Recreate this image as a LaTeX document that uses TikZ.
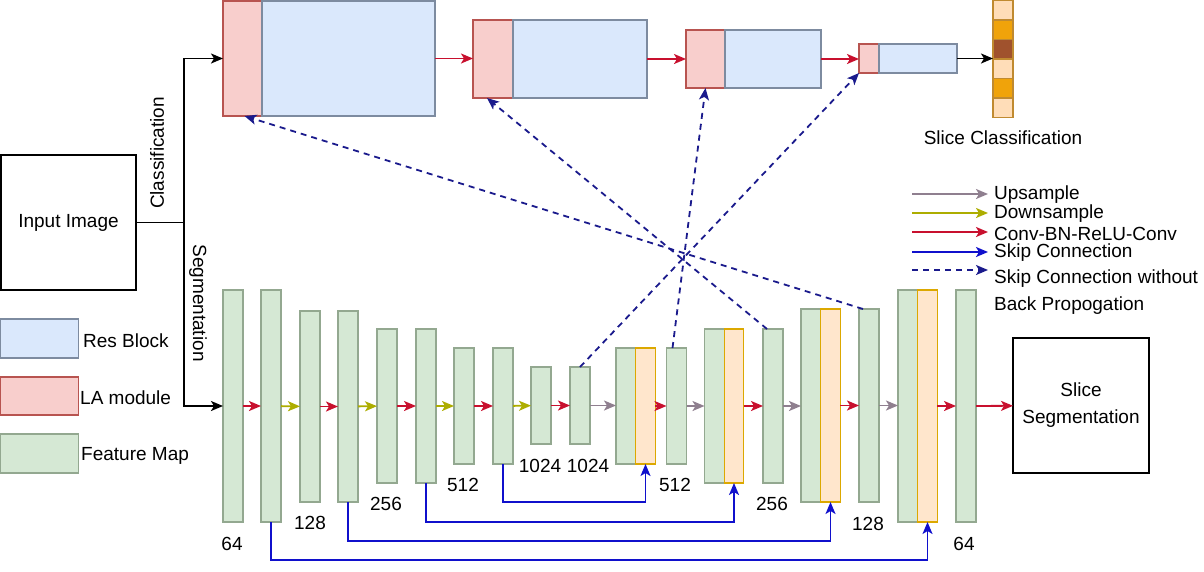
\documentclass[tikz,border=0pt]{standalone}
\usepackage{fontspec}
\setmainfont{Liberation Sans}
\usetikzlibrary{arrows.meta,calc}
\definecolor{lapink}{HTML}{F8CECC}
\definecolor{laborder}{HTML}{B85450}
\definecolor{resblue}{HTML}{DAE8FC}
\definecolor{resborder}{HTML}{7D8BA0}
\definecolor{fmgreen}{HTML}{D5E8D4}
\definecolor{fmborder}{HTML}{93A890}
\definecolor{catfill}{HTML}{FFE6CC}
\definecolor{catborder}{HTML}{DCA800}
\definecolor{convred}{HTML}{C8102E}
\definecolor{downolive}{HTML}{ADAD00}
\definecolor{upgray}{HTML}{8F7F8F}
\definecolor{skipblue}{HTML}{1010CC}
\definecolor{dashnavy}{HTML}{1A1A8C}
\definecolor{clight}{HTML}{FFDDB8}
\definecolor{corange}{HTML}{F0A30A}
\definecolor{cbrown}{HTML}{A0522D}
\definecolor{cborder}{HTML}{C08A30}
\begin{document}
\begin{tikzpicture}[x=1pt,y=-1pt,
  font=\fontsize{19}{22}\selectfont,
  blk/.style={inner sep=0pt, outer sep=0pt, line width=1.4pt},
  la/.style={blk, draw=laborder, fill=lapink},
  res/.style={blk, draw=resborder, fill=resblue},
  fm/.style={blk, draw=fmborder, fill=fmgreen, minimum width=20pt},
  cat/.style={blk, draw=catborder, fill=catfill, minimum width=19.5pt},
  outbox/.style={blk, draw=black, line width=1.5pt, align=center},
  cell/.style={blk, draw=cborder, line width=1.2pt, minimum width=20pt, minimum height=19.5pt},
  tip/.style={-{Stealth[length=12pt,width=10pt,inset=3pt]}},
  arr/.style={tip, line width=1.8pt},
  conv/.style={arr, draw=convred},
  down/.style={arr, draw=downolive},
  up/.style={arr, draw=upgray},
  plain/.style={arr, draw=black},
  skip/.style={arr, draw=skipblue},
  dskip/.style={arr, draw=dashnavy, dash pattern=on 6pt off 5pt},
  lbl/.style={inner sep=0pt}
]
\useasboundingbox (0,0) rectangle (1204,571);

% ---------- Input ----------
\node[outbox, minimum width=135pt, minimum height=135pt] (in) at (68.5,222.5) {Input Image};
\coordinate (j) at (184,222.5);
\node[lbl, rotate=90] (tcls) at (157,153) {Classification};
\node[lbl, rotate=-90] (tseg) at (198,303) {Segmentation};

% ---------- Classification branch ----------
\node[la, minimum width=39pt, minimum height=115pt] (b1l) at (242.5,58.5) {};
\node[res, minimum width=173pt, minimum height=115pt] (b1r) at (348.5,58.5) {};
\node[la, minimum width=40pt, minimum height=78pt] (b2l) at (493,59) {};
\node[res, minimum width=134pt, minimum height=78pt] (b2r) at (580,59) {};
\node[la, minimum width=39pt, minimum height=58pt] (b3l) at (705.5,59) {};
\node[res, minimum width=96pt, minimum height=58pt] (b3r) at (773,59) {};
\node[la, minimum width=20pt, minimum height=29pt] (b4l) at (869,58.5) {};
\node[res, minimum width=78pt, minimum height=29pt] (b4r) at (918,58.5) {};

\node[cell, fill=clight] (c1) at (1003,10.25) {};
\node[cell, fill=corange] (c2) at (1003,29.75) {};
\node[cell, fill=cbrown] (c3) at (1003,49.25) {};
\node[cell, fill=clight] (c4) at (1003,68.75) {};
\node[cell, fill=corange] (c5) at (1003,88.25) {};
\node[cell, fill=clight] (c6) at (1003,107.75) {};
\node[lbl] (tcl) at (1003,138) {Slice Classification};

\draw[plain] (in.east) -- (j) |- (b1l.west);
\draw[conv] (b1r.east) -- (b1r.east -| b2l.west);
\draw[conv] (b2r.east) -- (b2r.east -| b3l.west);
\draw[conv] (b3r.east) -- (b3r.east -| b4l.west);
\draw[plain] (b4r.east) -- (b4r.east -| c3.west);

% ---------- Segmentation branch ----------
\node[fm, minimum height=232pt] (f1) at (233,406) {};
\node[fm, minimum height=232pt] (f2) at (271,406) {};
\node[fm, minimum height=191pt] (f3) at (310,406.5) {};
\node[fm, minimum height=191pt] (f4) at (348,406.5) {};
\node[fm, minimum height=154pt] (f5) at (387,406) {};
\node[fm, minimum height=154pt] (f6) at (426,406) {};
\node[fm, minimum height=116pt] (f7) at (464,406) {};
\node[fm, minimum height=116pt] (f8) at (503,406) {};
\node[fm, minimum height=77pt] (f9) at (541,405.5) {};
\node[fm, minimum height=77pt] (f10) at (580,405.5) {};
\node[fm, minimum height=116pt] (d1g) at (626,406) {};
\node[cat, minimum height=116pt] (d1o) at (645.5,406) {};
\node[fm, minimum height=116pt] (f11) at (676.5,406) {};
\node[fm, minimum height=154pt] (d2g) at (714.5,406) {};
\node[cat, minimum height=154pt] (d2o) at (734,406) {};
\node[fm, minimum height=154pt] (f12) at (773,406) {};
\node[fm, minimum height=193pt] (d3g) at (811,405.5) {};
\node[cat, minimum height=193pt] (d3o) at (830.5,405.5) {};
\node[fm, minimum height=193pt] (f13) at (869,405.5) {};
\node[fm, minimum height=232pt] (d4g) at (908,406) {};
\node[cat, minimum height=232pt] (d4o) at (927.5,406) {};
\node[fm, minimum height=232pt] (f14) at (966,406) {};
\node[outbox, minimum width=136pt, minimum height=135pt, font=\fontsize{19}{27}\selectfont] (seg) at (1081,405.5) {Slice\\Segmentation};

\draw[plain] (j) |- (f1.west);
\draw[conv] (f1) -- (f2);
\draw[down] (f2) -- (f3);
\draw[conv] (f3) -- (f4);
\draw[down] (f4) -- (f5);
\draw[conv] (f5) -- (f6);
\draw[down] (f6) -- (f7);
\draw[conv] (f7) -- (f8);
\draw[down] (f8) -- (f9);
\draw[conv] (f9) -- (f10);
\draw[up] (f10) -- (f10 -| d1g.west);
\draw[conv] (d1o.east) -- (d1o.east -| f11.west);
\draw[up] (f11) -- (f11 -| d2g.west);
\draw[conv] (d2o.east) -- (d2o.east -| f12.west);
\draw[up] (f12) -- (f12 -| d3g.west);
\draw[conv] (d3o.east) -- (d3o.east -| f13.west);
\draw[up] (f13) -- (f13 -| d4g.west);
\draw[conv] (d4o.east) -- (d4o.east -| f14.west);
\draw[conv] (f14) -- (seg);

% channel labels
\node[lbl] (n1) at (232,544) {64};
\node[lbl] (n2) at (310,523) {128};
\node[lbl] (n3) at (386,504) {256};
\node[lbl] (n4) at (463,485) {512};
\node[lbl] (n5) at (540,466) {1024};
\node[lbl] (n6) at (588,466) {1024};
\node[lbl] (n7) at (675,485) {512};
\node[lbl] (n8) at (772,504) {256};
\node[lbl] (n9) at (868,524) {128};
\node[lbl] (n10) at (964,544) {64};

% skip connections
\draw[skip] (f8.south) -- ([yshift=-38pt]f8.south) -| (d1o.south);
\draw[skip] (f6.south) -- ([yshift=-39pt]f6.south) -| (d2o.south);
\draw[skip] (f4.south) -- ([yshift=-39pt]f4.south) -| (d3o.south);
\draw[skip] (f2.south) -- ([yshift=-38pt]f2.south) -| (d4o.south);

% skip connections without back propagation
\draw[dskip] ([xshift=-4pt]f11.north) -- (b3l.south);
\draw[dskip] ([xshift=-6pt]f12.north) -- ([xshift=-6pt]b2l.south);
\draw[dskip] ([xshift=-6pt]f13.north) -- ([xshift=2pt]b1l.south);
\draw[dskip] (f10.north) -- (b4l.south west);

% ---------- Legends ----------
\node[res, minimum width=78pt, minimum height=39pt] (lg1) at (39.75,338.5) {};
\node[la, minimum width=78pt, minimum height=38pt] (lg2) at (39.75,396) {};
\node[fm, minimum width=78pt, minimum height=39pt] (lg3) at (39.75,453.5) {};
\node[lbl, anchor=west] (lt1) at (83,341) {Res Block};
\node[lbl, anchor=west] (lt2) at (80,398) {LA module};
\node[lbl, anchor=west] (lt3) at (81,456) {Feature Map};

\coordinate (a1) at (912,194); \coordinate (e1) at (988,194);
\coordinate (a2) at (912,213); \coordinate (e2) at (988,213);
\coordinate (a3) at (912,232); \coordinate (e3) at (988,232);
\coordinate (a4) at (912,252); \coordinate (e4) at (988,252);
\coordinate (a5) at (912,270); \coordinate (e5) at (988,270);
\draw[up] (a1) -- (e1);
\draw[down] (a2) -- (e2);
\draw[conv] (a3) -- (e3);
\draw[skip] (a4) -- (e4);
\draw[dskip] (a5) -- (e5);
\node[lbl, anchor=west] (k1) at (994,195) {Upsample};
\node[lbl, anchor=west] (k2) at (994,214) {Downsample};
\node[lbl, anchor=west] (k3) at (994,234) {Conv-BN-ReLU-Conv};
\node[lbl, anchor=west] (k4) at (994,253) {Skip Connection};
\node[lbl, anchor=west] (k5) at (994,279) {Skip Connection without};
\node[lbl, anchor=west] (k6) at (994,306) {Back Propogation};
\end{tikzpicture}
\end{document}
